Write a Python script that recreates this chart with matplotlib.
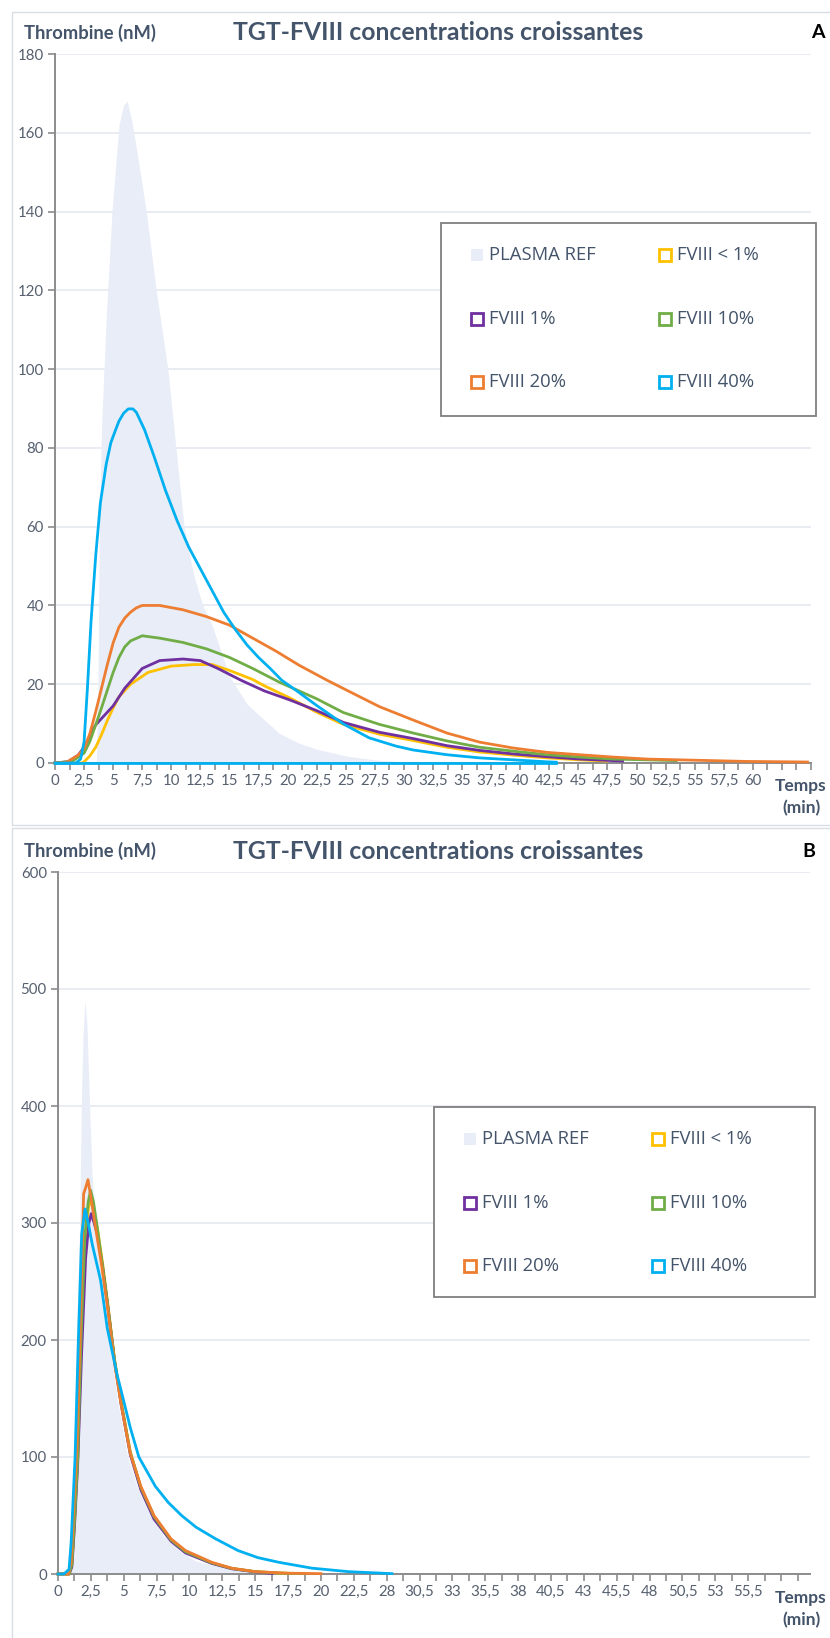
import matplotlib
matplotlib.use("Agg")
import matplotlib.pyplot as plt
from matplotlib.patches import Rectangle
import numpy as np

# ---------------- DATA ----------------
series_names = ["PLASMA REF", "FVIII < 1%", "FVIII 1%", "FVIII 10%", "FVIII 20%", "FVIII 40%"]
series_colors = ["#E8EDF7", "#FFC000", "#7030A0", "#70AD47", "#ED7D31", "#00B0F0"]

xlabels_A = ["0", "2,5", "5", "7,5", "10", "12,5", "15", "17,5", "20", "22,5", "25", "27,5",
             "30", "32,5", "35", "37,5", "40", "42,5", "45", "47,5", "50", "52,5", "55", "57,5", "60"]
xlabels_B = ["0", "2,5", "5", "7,5", "10", "12,5", "15", "17,5", "20", "22,5", "28", "30,5",
             "33", "35,5", "38", "40,5", "43", "45,5", "48", "50,5", "53", "55,5"]

# Panel A (time, min)
tA_plasma = [0, 3.55, 3.7, 3.8, 4.0, 4.4, 4.9, 5.5, 5.9, 6.2, 6.6, 7.0, 7.8, 8.7, 9.7, 10.4, 11.1,
             11.9, 12.7, 13.5, 14.2, 15.0, 16.5, 17.6, 19.3, 21.0, 22.5, 25.0, 27.5, 30.0, 32.5]
yA_plasma = [0, 0, 20, 58, 85, 113, 140, 162, 167, 168, 163, 156, 141, 120, 100, 80, 60,
             48, 40, 35, 29, 22, 15, 12, 7.5, 5, 3.5, 1.8, 0.8, 0.3, 0]

tA_lt1 = [0, 2.3, 2.5, 3.0, 3.5, 4.0, 4.5, 5.0, 5.5, 6.5, 8, 10, 12, 13.5, 15, 17, 18, 20.2, 22.5,
          24.8, 27.9, 30.8, 33.7, 36.5, 39.4, 42.3, 45.1, 47.4]
yA_lt1 = [0, 0, 0.3, 1.8, 4, 7.2, 10.8, 14.0, 16.8, 20, 23, 24.6, 25, 25, 23.5, 21.2, 19.6, 16.5,
          12.9, 9.8, 7.3, 5.7, 4.0, 2.8, 2.0, 1.3, 0.8, 0.5]

tA_1 = [0, 1.1, 2.0, 2.5, 3.5, 5, 6, 7.5, 9, 11, 12.5, 14, 16, 18, 20.2, 22.5, 24.8, 27.9, 30.8,
        33.7, 36.5, 39.4, 42.3, 45.1, 48.0, 48.8]
yA_1 = [0, 0.3, 2.0, 4, 9.7, 14.5, 19, 24, 26, 26.4, 26, 24, 21, 18.3, 16, 13.3, 10.3, 7.8, 6.2,
        4.4, 3.2, 2.3, 1.6, 1.0, 0.6, 0.5]

tA_10 = [0, 1.5, 2.5, 3.0, 3.5, 4.0, 4.5, 5.0, 5.5, 6.0, 6.5, 7.5, 9, 11, 13, 15, 17, 19.3, 22.5,
         24.8, 27.9, 30.8, 33.7, 36.5, 39.4, 42.3, 45.1, 48.0, 50.9, 53.4]
yA_10 = [0, 0.5, 2.5, 5.5, 9.7, 14.0, 18.5, 23.0, 26.8, 29.5, 31, 32.3, 31.7, 30.6, 29, 26.8, 24,
         20.5, 16.3, 12.8, 9.8, 7.6, 5.6, 4.0, 3.0, 2.1, 1.5, 1.0, 0.8, 0.6]

tA_20 = [0, 1.0, 2.0, 2.5, 3.0, 3.5, 4.0, 4.5, 5.0, 5.5, 6.0, 6.5, 7.0, 7.5, 9.0, 11, 13, 15, 17,
         19, 21, 23.4, 25, 27.9, 30.8, 33.7, 36.5, 39.4, 42.3, 45.1, 48.0, 50.9, 53.7, 59.4, 64.7]
yA_20 = [0, 0.2, 2, 3.6, 7.5, 13, 19, 25, 30.5, 34.5, 36.8, 38.3, 39.4, 40, 40, 38.9, 37.2, 35,
         31.7, 28.4, 24.8, 21, 18.6, 14.3, 10.9, 7.6, 5.3, 3.8, 2.7, 2.1, 1.5, 1.0, 0.8, 0.4, 0.25]

tA_40 = [0, 1.8, 2.2, 2.5, 2.8, 3.1, 3.5, 3.9, 4.4, 4.8, 5.2, 5.5, 5.9, 6.3, 6.7, 7.0, 7.7, 8.5,
         9.5, 10.5, 11.5, 12.5, 13.5, 14.5, 15.5, 16.5, 17.5, 18.5, 19.5, 20.7, 22.5, 24.8, 27.0,
         29.3, 30.8, 33.7, 36.5, 39.4, 42.3, 43.1]
yA_40 = [0, 0, 1, 5.3, 19.6, 36, 52.6, 66, 75.8, 81.3, 84.5, 86.8, 88.8, 89.9, 89.9, 89, 84.6, 78,
         69.2, 61.5, 54.8, 49.3, 43.8, 38.3, 33.9, 30, 26.8, 24, 21, 18.5, 14.6, 9.9, 6.4,
         4.3, 3.3, 2.1, 1.3, 0.8, 0.3, 0.2]

tA_40_base = [0, 43.1]
yA_40_base = [0, 0]

# Panel B (category position, 2.5 per labelled step)
tB_plasma = [0, 0.8, 1.0, 1.2, 1.4, 1.65, 1.77, 1.9, 2.05, 2.2, 2.4, 2.6, 2.86, 3.3, 3.9, 4.5,
             5.3, 6.0, 7.0, 8.0, 9.2, 10.5, 12.7, 14.5, 16.3]
yB_plasma = [0, 0, 30, 100, 200, 300, 400, 460, 490, 470, 400, 340, 300, 250, 200, 150,
             100, 75, 50, 33, 20, 11, 5, 2, 0]

tB_lt1 = [0, 0.85, 1.05, 1.25, 1.5, 1.75, 2.05, 2.3, 2.45, 2.7, 3.0, 3.4, 3.8, 4.3, 4.8, 5.5,
          6.3, 7.3, 8.6, 9.7, 11.7, 13.2, 15, 17, 18.5]
yB_lt1 = [0, 0, 7, 42, 98, 195, 280, 312, 320, 312, 295, 265, 230, 184, 147, 104,
          74, 49, 29, 19, 9.5, 4.8, 2, 0.7, 0.3]

tB_1 = [0, 0.85, 1.05, 1.25, 1.5, 1.8, 2.1, 2.35, 2.53, 2.75, 3.0, 3.4, 3.8, 4.3, 4.8, 5.5,
        6.3, 7.3, 8.6, 9.7, 11.7, 13.2, 15, 16.3]
yB_1 = [0, 0, 6, 40, 95, 190, 270, 300, 308, 300, 290, 262, 228, 182, 145, 102,
        72, 47, 28, 18, 9, 4.5, 1.8, 0.5]

tB_10 = [0, 0.85, 1.05, 1.25, 1.5, 1.75, 2.05, 2.3, 2.48, 2.7, 3.0, 3.4, 3.8, 4.3, 4.8, 5.5,
         6.3, 7.3, 8.6, 9.7, 11.7, 13.2, 15, 17, 18.8]
yB_10 = [0, 0, 8, 45, 100, 200, 290, 318, 328, 318, 295, 262, 228, 183, 147, 104,
         74, 49, 29, 19, 9.5, 4.8, 2, 0.7, 0.3]

tB_20 = [0, 0.8, 1.0, 1.2, 1.45, 1.7, 1.95, 2.1, 2.28, 2.5, 2.8, 3.3, 3.8, 4.3, 4.8, 5.5,
         6.3, 7.3, 8.6, 9.7, 11.7, 13.2, 15, 17.5, 20]
yB_20 = [0, 0, 10, 55, 110, 210, 325, 330, 337, 322, 300, 265, 225, 180, 145, 103,
         75, 50, 30, 20, 10, 5, 2, 0.7, 0.3]

tB_40 = [0, 0.45, 0.84, 1.0, 1.3, 1.55, 1.8, 2.05, 2.3, 2.6, 3.24, 3.75, 4.5, 4.84, 5.5, 6.15,
         7.4, 8.4, 9.4, 10.5, 12.0, 13.7, 15.2, 16.8, 19.3, 22.1, 25.4]
yB_40 = [0, 0, 4, 27, 100, 200, 290, 312, 300, 282, 251, 210, 170, 155, 125, 100,
         75, 61, 50, 40, 30, 20, 14, 10, 5, 2, 0.3]

# ---------------- FIGURE ----------------
W, H = 830, 1638
fig = plt.figure(figsize=(W / 100, H / 100), dpi=100)

TXT = "#44546A"
TICK = "#56606F"
AXC = "#8C8C8C"
GRID = "#E3E7EF"


def fx(px):
    return px / W


def fy(py):
    return 1 - py / H


def add_axes(left, right, top, bottom):
    return fig.add_axes([fx(left), fy(bottom), fx(right - left), (bottom - top) / H])


def style_axes(ax, xmax, ymax, ystep, labels):
    ax.set_xlim(0, xmax)
    ax.set_ylim(0, ymax)
    npos = int(xmax // 2.5) + 1
    pos = np.arange(npos) * 2.5
    ax.set_xticks(pos)
    ax.set_xticklabels(labels + [""] * (npos - len(labels)))
    ax.set_xticks(np.arange(1.25, xmax, 2.5), minor=True)
    ax.set_yticks(np.arange(0, ymax + 1, ystep))
    ax.tick_params(axis="x", which="both", length=5, width=1.2, color=AXC, direction="out",
                   pad=3, labelsize=10.8, labelcolor=TICK)
    ax.tick_params(axis="y", which="major", length=5, width=1.2, color=AXC, direction="out",
                   pad=3, labelsize=10.8, labelcolor=TICK)
    for lab in ax.get_xticklabels() + ax.get_yticklabels():
        lab.set_fontfamily("Lato")
    ax.grid(axis="y", color=GRID, lw=1.1)
    ax.set_axisbelow(True)
    for s in ["top", "right"]:
        ax.spines[s].set_visible(False)
    for s in ["left", "bottom"]:
        ax.spines[s].set_color(AXC)
        ax.spines[s].set_linewidth(1.4)
        ax.spines[s].set_zorder(2.5)
    ax.patch.set_alpha(0)


def draw_series(ax, plasma, curves):
    ax.fill_between(plasma[0], plasma[1], 0, color=series_colors[0], lw=0, zorder=1)
    for (t, y), c in zip(curves, series_colors[1:]):
        ax.plot(t, y, color=c, lw=2.0, zorder=3, clip_on=False, solid_joinstyle="round")


def draw_legend(left, right, top, bottom):
    fig.patches.append(Rectangle((fx(left), fy(bottom)), fx(right - left), (bottom - top) / H,
                                 transform=fig.transFigure, facecolor="white",
                                 edgecolor="#7F7F7F", lw=1.3, zorder=5))
    order = [(0, 0), (0, 1), (1, 0), (1, 1), (2, 0), (2, 1)]
    for i, (r, c) in enumerate(order):
        cy = top + 32 + r * 63.5
        mx = left + (36 if c == 0 else 224)
        tx = left + (48 if c == 0 else 236)
        s = 12
        if i == 0:
            fig.patches.append(Rectangle((fx(mx - s / 2), fy(cy + s / 2)), fx(s), s / H,
                                         transform=fig.transFigure, facecolor=series_colors[0],
                                         edgecolor="none", zorder=6))
        else:
            fig.patches.append(Rectangle((fx(mx - s / 2), fy(cy + s / 2)), fx(s), s / H,
                                         transform=fig.transFigure, facecolor="white",
                                         edgecolor=series_colors[i], lw=2.0, zorder=6))
        fig.text(fx(tx), fy(cy), series_names[i], ha="left", va="center",
                 fontsize=13.3, color=TXT, family="Open Sans", zorder=7)


def panel_frame(top, bottom):
    fig.patches.append(Rectangle((fx(12), fy(bottom)), fx(830), (bottom - top) / H,
                                 transform=fig.transFigure, facecolor="none",
                                 edgecolor="#DADDE3", lw=1.0, zorder=0))


def headers(y, letter, letter_x, temps_y):
    fig.text(fx(24), fy(y), "Thrombine (nM)", ha="left", va="center", fontsize=13.2,
             fontweight="bold", color=TXT, family="Lato")
    fig.text(fx(438), fy(y), "TGT-FVIII concentrations croissantes", ha="center", va="center",
             fontsize=17.8, fontweight="bold", color=TXT, family="Lato")
    fig.text(fx(letter_x), fy(y), letter, ha="center", va="center", fontsize=14,
             fontweight="bold", color="black", family="Lato")
    fig.text(fx(801), fy(temps_y), "Temps", ha="center", va="center", fontsize=12.5,
             fontweight="bold", color=TXT, family="Lato")
    fig.text(fx(801), fy(temps_y + 22), "(min)", ha="center", va="center", fontsize=12.5,
             fontweight="bold", color=TXT, family="Lato")


# Frames
panel_frame(12, 825)
panel_frame(828, 1660)

# Panel A
axA = add_axes(55, 811, 54, 763)
style_axes(axA, 65, 180, 20, xlabels_A)
draw_series(axA, (tA_plasma, yA_plasma),
            [(tA_lt1, yA_lt1), (tA_1, yA_1), (tA_10, yA_10), (tA_20, yA_20), (tA_40, yA_40)])
axA.plot(tA_40_base, yA_40_base, color=series_colors[5], lw=2.0, zorder=3, clip_on=False)
headers(33, "A", 818, 786)
draw_legend(441, 816, 223, 416)

# Panel B
axB = add_axes(58, 810, 872, 1574)
style_axes(axB, 57.2, 600, 100, xlabels_B)
draw_series(axB, (tB_plasma, yB_plasma),
            [(tB_lt1, yB_lt1), (tB_1, yB_1), (tB_10, yB_10), (tB_20, yB_20), (tB_40, yB_40)])
headers(851, "B", 809, 1598)
draw_legend(434, 815, 1107, 1297)

fig.savefig("out.png", dpi=100, facecolor="white")
